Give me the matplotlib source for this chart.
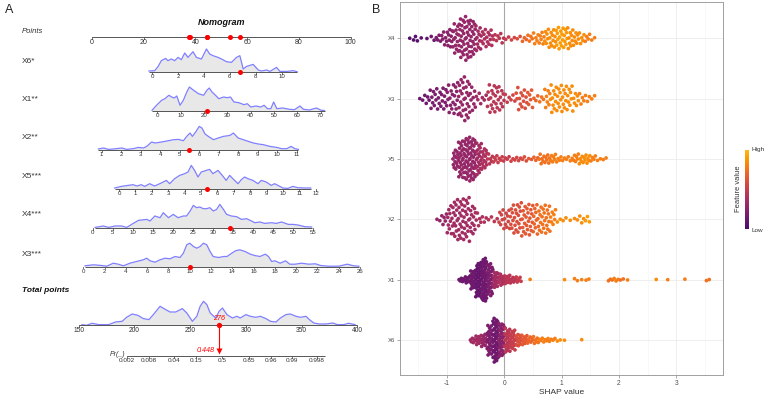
import numpy as np
import matplotlib
matplotlib.use("Agg")
import matplotlib.pyplot as plt
from matplotlib.colors import LinearSegmentedColormap
from matplotlib.cm import ScalarMappable

plt.rcParams['font.family'] = ['Liberation Sans', 'DejaVu Sans']
plt.rcParams['axes.unicode_minus'] = False

# ---------------- panel A: nomogram data ----------------
var_names = ["X6*", "X1**", "X2**", "X5***", "X4***", "X3***"]
var_pts0 = [23.3, 25.2, -3.79, 10.44, 0.27, -3.36]     # points at value 0
var_slope = [5.0, 0.902, 7.538, 6.336, 1.55, 4.114]    # points per unit
var_ticks = [[0, 2, 4, 6, 8, 10],
             [0, 10, 20, 30, 40, 50, 60, 70],
             [1, 2, 3, 4, 5, 6, 7, 8, 9, 10, 11],
             [0, 1, 2, 3, 4, 5, 6, 7, 8, 9, 10, 11, 12],
             [0, 5, 10, 15, 20, 25, 30, 35, 40, 45, 50, 55],
             [0, 2, 4, 6, 8, 10, 12, 14, 16, 18, 20, 22, 24, 26]]
var_obs = [6.8, 21.3, 5.5, 5.35, 34.3, 10.0]

# density curves (value, height)
x6_x = [-0.26, 0.18, 0.44, 0.70, 1.03, 1.21, 1.47, 1.73, 1.99, 2.25, 2.51, 2.76, 3.15, 3.41,
        3.80, 4.19, 4.44, 4.70, 5.09, 5.35, 5.74, 6.12, 6.51, 6.77, 7.03, 7.29, 7.80, 8.19,
        8.45, 8.84, 9.10, 9.61, 9.87, 10.39, 10.90, 11.2]
x6_d = [0.7, 1, 5, 11, 13.3, 11, 12.7, 11, 14.3, 12, 18.7, 14.3, 20, 14.3, 12.7, 22.7, 17.7, 16,
        14.3, 12.7, 10, 9.3, 14.3, 16, 2.7, 5.3, 7.3, 1.7, 0.7, 1.7, 0.3, 4.3, 0.3, 0.3, 1, 0]
x1_x = [-2.2, -0.3, 1.9, 3.3, 5.0, 6.2, 7.3, 8.4, 9.8, 11.2, 12.7, 13.8, 15.6, 17.7, 19.9, 21.3,
        22.3, 23.5, 25.0, 26.4, 28.5, 30.0, 31.4, 32.9, 35.0, 37.2, 38.6, 40.1, 42.3, 44.4, 45.8,
        47.3, 48.7, 49.9, 51.3, 53.8, 56.6, 58.8, 61.2, 62.7, 65.3, 68.2, 70.3, 71.7]
x1_d = [0.7, 5.7, 10.7, 12.3, 15.7, 14, 13, 15, 5.7, 10.7, 19, 24, 20.7, 17.3, 15.7, 20.7, 23, 19,
        15.7, 12.3, 14, 13.3, 14, 9, 8.3, 6.3, 7.3, 4, 5, 4, 5.7, 2.3, 2.3, 9, 2.3, 3, 1.7, 1.3,
        5, 1.7, 1, 3, 0.7, 0.5]
x2_x = [0.83, 1.09, 1.35, 1.60, 2.03, 2.28, 2.62, 2.88, 3.14, 3.31, 3.56, 3.74, 4.08, 4.42, 4.68,
        4.93, 5.19, 5.36, 5.53, 5.65, 5.84, 6.0, 6.14, 6.30, 6.47, 6.73, 6.98, 7.24, 7.58, 7.75,
        8.0, 8.26, 8.52, 8.78, 9.03, 9.29, 9.63, 9.97, 10.23, 10.49, 10.71, 10.91, 11.09]
x2_d = [0.7, 1.7, 0.3, 0.7, 1.7, 0.3, 1, 2.3, 1.7, 3.3, 7.7, 6.7, 7.7, 9, 10, 10.3, 9, 13.3, 16.7,
        13.3, 18.3, 23.3, 21.7, 15.7, 13.3, 10, 11.7, 13.3, 14.3, 16.7, 11.7, 10, 8.3, 6.7, 5.7,
        5, 3.3, 2.3, 1, 1, 3.3, 1, 0.3]
x5_x = [-0.26, 0.14, 0.55, 0.85, 1.10, 1.36, 1.57, 1.87, 2.17, 2.58, 2.89, 3.09, 3.39, 3.70, 4.00,
        4.21, 4.41, 4.61, 4.82, 5.02, 5.33, 5.53, 5.73, 6.04, 6.30, 6.54, 6.75, 7.05, 7.26, 7.46,
        7.66, 7.87, 8.17, 8.48, 8.68, 8.98, 9.29, 9.49, 9.70, 10.0, 10.30, 10.61, 10.91, 11.3, 11.7]
x5_d = [0.7, 2.3, 3.3, 4, 2.7, 4, 2.3, 5, 2.7, 5.7, 8.3, 5, 10, 13.3, 15, 16.7, 23.3, 18.3, 11.7,
        16.7, 18.3, 19.3, 15, 18.3, 13.3, 8.3, 13.3, 8.3, 5, 9, 11.7, 10, 8.3, 5, 8.3, 6.7, 3.3,
        5, 3.3, 0.7, 0.3, 2.3, 1, 0.7, 0.7]
x4_x = [0.6, 2.66, 4.0, 5.56, 7.2, 8.5, 9.7, 11.4, 13.5, 14.3, 15.5, 16.8, 17.6, 18.9, 20.1, 21.3,
        22.6, 23.4, 24.3, 25.1, 25.9, 26.7, 27.6, 28.4, 29.2, 30.1, 30.9, 31.7, 32.6, 33.4, 34.6,
        35.9, 37.1, 38.4, 39.6, 40.4, 41.7, 42.9, 44.6, 45.8, 47.1, 48.8, 50.0, 51.2, 52.9, 54.6]
x4_d = [0.3, 1.7, 0.3, 1.7, 1.7, 0.3, 3.3, 7.3, 8.3, 6.7, 11.7, 10, 15, 10, 13.3, 10, 11.7, 11.7,
        16.7, 22.3, 20, 20.7, 19, 19, 20, 16.7, 18.3, 23.3, 18.3, 13.3, 11.7, 11, 8.3, 9, 6.7, 5,
        5.7, 4.3, 5, 4.3, 5.7, 3.3, 3.3, 2.7, 1, 0.7]
x3_x = [0.16, 0.94, 1.72, 2.2, 2.82, 3.29, 3.76, 4.39, 5.0, 5.64, 5.96, 6.27, 6.74, 7.21, 7.68,
        8.15, 8.62, 9.09, 9.40, 9.72, 10.0, 10.35, 10.66, 10.97, 11.29, 11.60, 11.91, 12.2, 12.7,
        13.2, 13.5, 13.95, 14.3, 14.7, 15.2, 15.7, 16.1, 16.6, 17.1, 17.4, 17.7, 18.0, 18.5, 19.0,
        19.4, 19.9, 20.5, 21.2, 21.8, 22.3, 23.0, 24.0, 24.8, 25.4, 25.9]
x3_d = [0.7, 1.7, 1, 0.3, 3.3, 2.3, 0.7, 3.3, 5, 6.7, 8.3, 5.7, 4.3, 6.7, 8.3, 7.7, 10, 9, 13.3,
        21.7, 23.3, 20, 18.3, 20, 23.3, 21.7, 15, 10, 9, 10, 10, 13.3, 15.7, 16.7, 15, 12.3, 11,
        10, 12.3, 10, 5, 5.7, 3.3, 5.7, 2.3, 2.3, 3.3, 2.3, 2.7, 1, 0.3, 0.3, 2.3, 0.7, 0.3]
dens_x = [x6_x, x1_x, x2_x, x5_x, x4_x, x3_x]
dens_d = [x6_d, x1_d, x2_d, x5_d, x4_d, x3_d]

points_ticks = [0, 20, 40, 60, 80, 100]
total_ticks = [150, 200, 250, 300, 350, 400]
total_x = [153, 157, 162, 168, 177, 183, 189, 193, 198, 203, 208, 213, 217, 223, 228, 232, 237,
           243, 247, 252, 256, 259, 262, 265, 268, 273, 276, 279, 283, 288, 292, 295, 300, 304,
           309, 313, 318, 322, 327, 331, 336, 340, 345, 349, 354, 357, 361, 366, 372, 378, 382,
           388, 392, 398]
total_d = [0.7, 0, 2, 0.7, 0.7, 3.3, 4, 8, 11.3, 10, 6.7, 5.7, 10.7, 19, 15.7, 13.3, 13.3, 16.7,
           12.3, 4, 9, 19, 24, 20.7, 12.3, 7.3, 14, 17.3, 10.7, 7.3, 9, 7.3, 10.7, 9, 8, 9, 6.7, 4,
           3.3, 7.3, 10.7, 11.3, 9, 8, 9, 5.7, 2.3, 1.3, 1.3, 2.3, 0.7, 0.7, 2, 0.7]
total_obs = 276
pr_obs = 0.448
pr_ticks = [0.002, 0.008, 0.04, 0.15, 0.5, 0.85, 0.96, 0.99, 0.998]
pr_slope = 0.073      # logit per total point
pr_mid = 278.7        # total points where Pr = 0.5

# ---------------- panel B: SHAP beeswarm data (counts per 0.1 bin) ----------------
shap_features = ["X6", "X1", "X2", "X5", "X3", "X4"]   # bottom to top
x6_bins = [-0.55, -0.45, -0.35, -0.25, -0.15, -0.05, 0.05, 0.15, 0.25, 0.35, 0.45, 0.55, 0.65,
           0.75, 0.85, 0.95, 1.05, 1.35]
x6_counts = [6, 9, 12, 27, 39, 30, 21, 18, 12, 9, 7, 6, 4, 4, 3, 2, 1, 1]
x6_color = [0.35, 0.35, 0.3, 0.2, 0.15, 0.25, 0.45, 0.5, 0.6, 0.65, 0.7, 0.75, 0.8, 0.8, 0.8,
            0.85, 0.85, 0.85]
x1_bins = [-0.75, -0.65, -0.55, -0.45, -0.35, -0.25, -0.15, -0.05, 0.05, 0.15, 0.25, 0.45, 1.05,
           1.25, 1.35, 1.45, 1.85, 1.95, 2.05, 2.15, 2.65, 2.85, 3.15, 3.55]
x1_counts = [5, 7, 19, 34, 43, 31, 16, 11, 9, 7, 6, 1, 1, 2, 1, 2, 3, 3, 2, 1, 1, 1, 1, 2]
x1_color = [0.15, 0.15, 0.15, 0.12, 0.15, 0.2, 0.35, 0.4, 0.45, 0.45, 0.5, 0.8, 0.85, 0.8, 0.8,
            0.8, 0.75, 0.8, 0.75, 0.8, 0.85, 0.8, 0.8, 0.75]
x2_bins = [-1.15, -1.05, -0.95, -0.85, -0.75, -0.65, -0.55, -0.45, -0.35, -0.25, -0.15, -0.05,
           0.05, 0.15, 0.25, 0.35, 0.45, 0.55, 0.65, 0.75, 0.85, 0.95, 1.05, 1.15, 1.25, 1.35, 1.45]
x2_counts = [2, 5, 11, 15, 16, 16, 12, 5, 3, 2, 2, 7, 8, 11, 12, 12, 12, 11, 11, 11, 7, 2, 2, 1,
             2, 3, 3]
x2_color = [0.3, 0.3, 0.35, 0.35, 0.35, 0.35, 0.35, 0.4, 0.4, 0.45, 0.45, 0.55, 0.55, 0.6, 0.6,
            0.65, 0.65, 0.7, 0.75, 0.75, 0.8, 0.85, 0.85, 0.85, 0.85, 0.85, 0.9]
x5_bins = [-0.85, -0.75, -0.65, -0.55, -0.45, -0.35, -0.25, -0.15, -0.05, 0.05, 0.15, 0.25, 0.35,
           0.45, 0.55, 0.65, 0.75, 0.85, 0.95, 1.05, 1.15, 1.25, 1.35, 1.45, 1.55, 1.65, 1.75]
x5_counts = [14, 23, 27, 27, 20, 14, 6, 5, 4, 3, 3, 3, 3, 2, 3, 6, 6, 6, 4, 3, 3, 6, 6, 6, 4, 2, 2]
x5_color = [0.3, 0.3, 0.3, 0.3, 0.35, 0.4, 0.45, 0.5, 0.5, 0.5, 0.55, 0.55, 0.6, 0.65, 0.7, 0.75,
            0.75, 0.8, 0.8, 0.8, 0.8, 0.8, 0.85, 0.85, 0.8, 0.8, 0.8]
x3_bins = [-1.45, -1.35, -1.25, -1.15, -1.05, -0.95, -0.85, -0.75, -0.65, -0.55, -0.45, -0.35,
           -0.25, -0.15, -0.05, 0.05, 0.15, 0.25, 0.35, 0.45, 0.55, 0.65, 0.75, 0.85, 0.95, 1.05,
           1.15, 1.25, 1.35, 1.45, 1.55]
x3_counts = [2, 4, 7, 7, 8, 9, 11, 14, 14, 8, 4, 3, 9, 10, 8, 3, 3, 7, 7, 6, 3, 3, 7, 9, 9, 9, 8,
             6, 4, 3, 2]
x3_color = [0.15, 0.15, 0.2, 0.2, 0.2, 0.25, 0.25, 0.3, 0.3, 0.3, 0.35, 0.35, 0.45, 0.45, 0.45,
            0.5, 0.55, 0.6, 0.6, 0.65, 0.7, 0.75, 0.8, 0.85, 0.85, 0.85, 0.85, 0.85, 0.8, 0.8, 0.8]
x4_bins = [-1.65, -1.55, -1.45, -1.35, -1.25, -1.15, -1.05, -0.95, -0.85, -0.75, -0.65, -0.55,
           -0.45, -0.35, -0.25, -0.15, -0.05, 0.05, 0.15, 0.25, 0.35, 0.45, 0.55, 0.65, 0.75, 0.85,
           0.95, 1.05, 1.15, 1.25, 1.35, 1.45, 1.55]
x4_counts = [1, 3, 1, 1, 2, 4, 6, 9, 13, 18, 19, 17, 11, 8, 8, 4, 4, 2, 2, 2, 3, 4, 5, 6, 8, 9, 10,
             10, 9, 7, 5, 4, 2]
x4_color = [0.05, 0.05, 0.1, 0.1, 0.15, 0.2, 0.25, 0.25, 0.3, 0.3, 0.3, 0.3, 0.35, 0.4, 0.4, 0.45,
            0.45, 0.5, 0.55, 0.6, 0.7, 0.75, 0.8, 0.8, 0.85, 0.85, 0.9, 0.9, 0.85, 0.85, 0.85, 0.8,
            0.8]
shap_bins = [x6_bins, x1_bins, x2_bins, x5_bins, x3_bins, x4_bins]
shap_counts = [x6_counts, x1_counts, x2_counts, x5_counts, x3_counts, x4_counts]
shap_color = [x6_color, x1_color, x2_color, x5_color, x3_color, x4_color]
shap_ticks = [-1, 0, 1, 2, 3]

# ---------------- layout ----------------
W, H = 767, 396
fig = plt.figure(figsize=(W / 100, H / 100), dpi=100)

AX_COL = '#555555'
TXT_COL = '#333333'

# panel A axes: x in "points" units, y in pixel rows
PX0, PXK = 92.0, 2.587            # pixel of 0 points, pixels per point
axA = fig.add_axes([0, 0, 376 / W, 1])
axA.set_xlim((0 - PX0) / PXK, (376 - PX0) / PXK)
axA.set_ylim(H, 0)
axA.axis('off')

def draw_axis(ax, y, lo, hi, pos, labels, fs=4.6, gap=2.2):
    ax.plot([lo, hi], [y, y], color=AX_COL, lw=0.7, solid_capstyle='butt', zorder=3)
    for p, lab in zip(pos, labels):
        ax.plot([p, p], [y, y + 1.8], color=AX_COL, lw=0.6, zorder=3)
        ax.text(p, y + gap, lab, ha='center', va='top', fontsize=fs, color=TXT_COL)

LABEL_X = (22 - PX0) / PXK
axA.text((221.7 - PX0) / PXK, 22.7, 'Nomogram', ha='center', va='center', fontsize=6.5,
         fontweight='bold', fontstyle='italic', color='#111111')
axA.text(LABEL_X, 31.7, 'Points', ha='left', va='center', fontsize=5.5, fontstyle='italic', color=TXT_COL)
draw_axis(axA, 36.7, 0, 100, points_ticks, [str(t) for t in points_ticks], fs=5.0)

row_axis_y = [71.7, 111.0, 149.7, 188.7, 227.7, 266.5]
row_label_y = [61.7, 99.5, 137.3, 176.0, 215.0, 254.0]
obs_points = []
for i, name in enumerate(var_names):
    p0, k, y = var_pts0[i], var_slope[i], row_axis_y[i]
    dx = p0 + k * np.array(dens_x[i])
    dy = y - np.array(dens_d[i])
    axA.fill_between(dx, y, dy, color='#e8e8e8', lw=0, zorder=1)
    axA.plot(dx, dy, color='#7f7fff', lw=0.9, zorder=2)
    ticks = np.array(var_ticks[i])
    draw_axis(axA, y, dx.min(), dx.max(), p0 + k * ticks, [str(t) for t in var_ticks[i]], fs=4.4)
    axA.text(LABEL_X, row_label_y[i], name, ha='left', va='center', fontsize=6, color=TXT_COL)
    op = p0 + k * var_obs[i]
    obs_points.append(op)
    axA.plot(op, y, 'o', color='red', ms=3.6, mec='none', zorder=5)

for op in obs_points:
    axA.plot(op, 36.7, 'o', color='red', ms=3.6, mec='none', zorder=5)

# total points axis (spans the plotting width)
T_LO_PX, T_HI_PX = 78.7, 357.3
def tot2pts(t):
    px = T_LO_PX + (np.asarray(t, float) - total_ticks[0]) * (T_HI_PX - T_LO_PX) / (total_ticks[-1] - total_ticks[0])
    return (px - PX0) / PXK

TOT_Y = 325.3
axA.text(LABEL_X, 290, 'Total points', ha='left', va='center', fontsize=6, fontweight='bold',
         fontstyle='italic', color='#111111')
tx = tot2pts(total_x)
ty = TOT_Y - np.array(total_d)
axA.fill_between(tx, TOT_Y, ty, color='#e8e8e8', lw=0, zorder=1)
axA.plot(tx, ty, color='#7f7fff', lw=0.9, zorder=2)
draw_axis(axA, TOT_Y, tot2pts(150), tot2pts(400), tot2pts(total_ticks),
          [str(t) for t in total_ticks], fs=4.8)
obs_x = tot2pts(total_obs)
axA.plot(obs_x, TOT_Y, 'o', color='red', ms=3.8, mec='none', zorder=5)
axA.text(obs_x, 318.5, str(total_obs), ha='center', va='center', fontsize=5.2,
         fontstyle='italic', color='red', zorder=6)

# probability axis
PR_Y = 356.0
pr_t = pr_mid + np.log(np.array(pr_ticks) / (1 - np.array(pr_ticks))) / pr_slope
pr_pos = tot2pts(pr_t)
draw_axis(axA, PR_Y, pr_pos.min(), pr_pos.max() + 3, pr_pos, [str(p) for p in pr_ticks],
          fs=4.6, gap=1.6)
axA.text(pr_pos.min() - 0.6, PR_Y - 1.5, 'Pr(_)', ha='right', va='center', fontsize=5.0,
         fontstyle='italic', color=TXT_COL)
axA.plot([obs_x, obs_x], [TOT_Y, 350], color='red', lw=0.8, zorder=4)
axA.plot(obs_x, 351, marker='v', color='red', ms=4.6, mec='none', zorder=5)
axA.text(obs_x - 1.6, 351, f'{pr_obs:.3f}', ha='right', va='center', fontsize=5.2,
         fontstyle='italic', color='red')

# ---------------- panel B ----------------
base = plt.get_cmap('inferno')
cmap = LinearSegmentedColormap.from_list('inf_cut', base(np.linspace(0.22, 0.84, 256)))

axB = fig.add_axes([400 / W, (H - 375) / H, 323.3 / W, 373 / H])
axB.set_xlim(-1.82, 3.82)
axB.set_ylim(0.42, 6.6)
axB.set_xticks(shap_ticks)
axB.set_xticks([-1.5, -0.5, 0.5, 1.5, 2.5, 3.5], minor=True)
axB.set_yticks(range(1, 7))
axB.set_yticklabels(shap_features)
axB.grid(True, which='major', color='#ebebeb', lw=0.6)
axB.grid(True, which='minor', axis='x', color='#f3f3f3', lw=0.4)
axB.set_axisbelow(True)
axB.tick_params(which='major', length=2, width=0.5, color='#888888', labelsize=4.8,
                labelcolor='#4d4d4d', pad=1.5)
axB.tick_params(which='minor', length=0)
axB.tick_params(axis='y', labelsize=4.3)
for sp in axB.spines.values():
    sp.set_color('#a0a0a0')
    sp.set_linewidth(0.7)
axB.axvline(0, color='#a8a8a8', lw=0.8, zorder=1)
axB.set_xlabel('SHAP value', fontsize=6, color='#333333', labelpad=1.5)

def vdc(n, b=2):
    v, d = 0.0, 1.0
    while n:
        d *= b
        n, r = divmod(n, b)
        v += r / d
    return v

HALF_W = 0.37     # max half-width of a swarm, in row units
BIN_W = 0.1
for row, (bins, counts, cols) in enumerate(zip(shap_bins, shap_counts, shap_color), start=1):
    cmax = max(counts)
    xs, ys, cs = [], [], []
    k = 0
    for c, n, col in zip(bins, counts, cols):
        hw = HALF_W * n / cmax
        for j in range(n):
            x = c - BIN_W / 2 + (j + 0.5) * BIN_W / n
            xs.append(x)
            ys.append(row + (2 * vdc(k + 1) - 1) * hw)
            cs.append(col)
            k += 1
    axB.scatter(xs, ys, c=cs, cmap=cmap, vmin=0, vmax=1, s=7, linewidths=0, zorder=3)

cax = fig.add_axes([745 / W, (H - 229) / H, 4 / W, 79 / H])
cb = fig.colorbar(ScalarMappable(cmap=cmap), cax=cax)
cb.set_ticks([])
cb.outline.set_visible(False)
fig.text(752 / W, 1 - 149 / H, 'High', fontsize=4.6, color='#333333', ha='left', va='center')
fig.text(752 / W, 1 - 230 / H, 'Low', fontsize=4.6, color='#333333', ha='left', va='center')
fig.text(738.5 / W, 1 - 189 / H, 'Feature value', fontsize=5.4, color='#333333', rotation=90,
         ha='center', va='center')

fig.text(5 / W, 1 - 10 / H, 'A', fontsize=9, color='#222222', ha='left', va='center')
fig.text(372 / W, 1 - 10 / H, 'B', fontsize=9, color='#222222', ha='left', va='center')

fig.savefig('out.png', dpi=100, facecolor='white')
